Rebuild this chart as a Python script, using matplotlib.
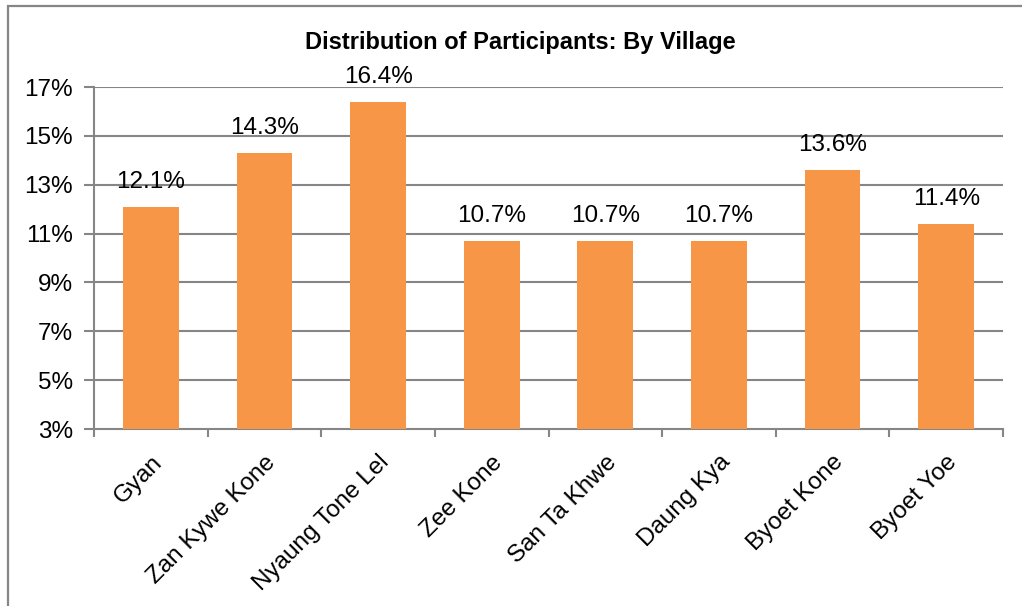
import matplotlib
matplotlib.use("Agg")
import matplotlib.pyplot as plt
from matplotlib.patches import Rectangle
from matplotlib.transforms import ScaledTranslation
import numpy as np

villages = ["Gyan", "Zan Kywe Kone", "Nyaung Tone Lel", "Zee Kone",
            "San Ta Khwe", "Daung Kya", "Byoet Kone", "Byoet Yoe"]
share = [12.1, 14.3, 16.4, 10.7, 10.7, 10.7, 13.6, 11.4]
yticks = [3, 5, 7, 9, 11, 13, 15, 17]

plt.rcParams['font.family'] = ['Liberation Sans', 'DejaVu Sans']
grid_c = "#868686"

fig = plt.figure(figsize=(10.22, 6.06), dpi=100)
ax = fig.add_axes([94/1022, 1-429/606, (1003-94)/1022, (429-87)/606])

x = np.arange(len(villages))
bars = ax.bar(x, share, width=0.49, bottom=0, color="#F79646", zorder=3)
for xi, v in zip(x, share):
    ax.annotate(f"{v:.1f}%", (xi, v), xytext=(0, 10), textcoords="offset points",
                ha="center", va="bottom", fontsize=17.5, zorder=4)

ax.set_xlim(-0.5, len(villages) - 0.5)
ax.set_ylim(3, 17)
ax.set_yticks(yticks)
ax.set_yticklabels([f"{t}%" for t in yticks], fontsize=17.5)
for t in yticks[1:]:
    ax.axhline(t, color=grid_c, lw=1.5, zorder=1)

ax.set_xticks(x)
ax.set_xticklabels(villages, rotation=45, ha="right", rotation_mode="anchor", fontsize=17.5)
shift = ScaledTranslation(-4/100, 0, fig.dpi_scale_trans)
for lbl in ax.get_xticklabels():
    lbl.set_transform(lbl.get_transform() + shift)
ax.set_xticks(np.arange(-0.5, len(villages)), minor=True)
ax.tick_params(axis="x", which="major", length=0, pad=16)
ax.tick_params(axis="x", which="minor", length=6, width=1.5, color=grid_c, direction="out")
ax.tick_params(axis="y", length=7, width=1.5, color=grid_c, pad=8)

for s in ["top", "right"]:
    ax.spines[s].set_visible(False)
for s in ["left", "bottom"]:
    ax.spines[s].set_color(grid_c)
    ax.spines[s].set_linewidth(1.5)

fig.text(520/1022, 1-43/606, "Distribution of Participants: By Village",
         ha="center", va="center", fontsize=17, fontweight="bold")

fig.patches.append(Rectangle((8/1022, -0.1), 1.2, 1.1 - 6.5/606, transform=fig.transFigure,
                             fill=False, edgecolor=grid_c, lw=1.6))

fig.savefig("out.png", dpi=100)
